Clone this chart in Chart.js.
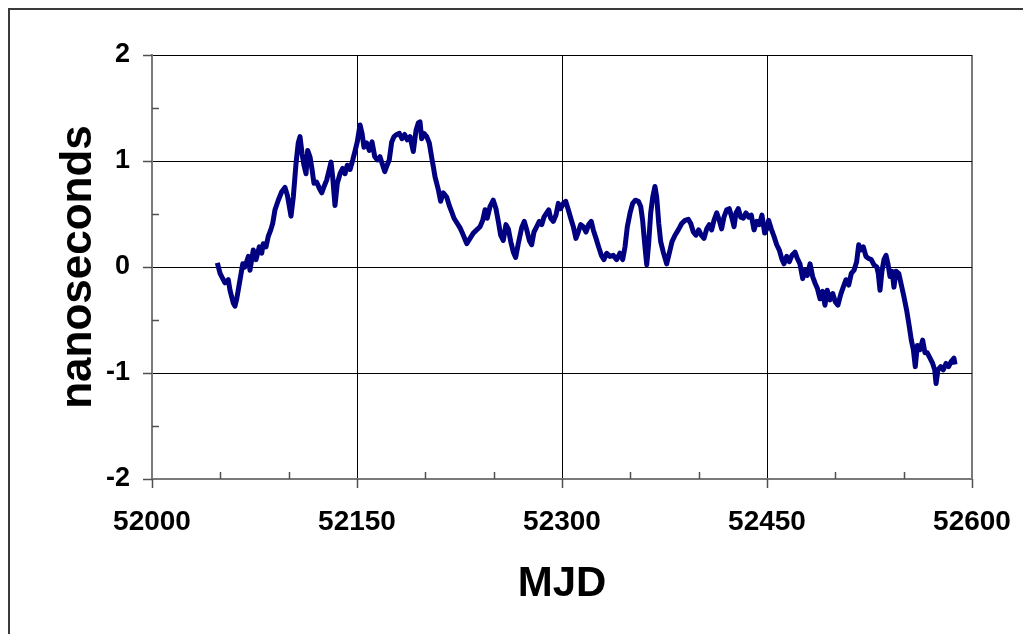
<!DOCTYPE html>
<html>
<head>
<meta charset="utf-8">
<script src="https://cdn.jsdelivr.net/npm/chart.js@4.4.1/dist/chart.umd.min.js"></script>
<style>
  html, body { margin: 0; padding: 0; background: #ffffff; }
  canvas { display: block; }
</style>
</head>
<body>
<canvas id="clock" width="1023" height="634"></canvas>
<script>
// Modified Julian Date of each sample
const mjd = [
  52047.8,52049.8,52051.0,52053.4,52055.8,52057.1,52059.5,52060.7,52062.0,52064.4,
  52066.4,52068.0,52070.5,52071.7,52074.1,52076.1,52078.5,52080.3,52081.4,52083.4,
  52085.1,52086.9,52088.3,52090.0,52092.4,52094.9,52097.3,52099.0,52100.5,52101.7,
  52103.4,52105.4,52107.0,52108.3,52109.8,52111.2,52112.7,52113.9,52115.6,52117.1,
  52118.5,52120.5,52122.9,52124.2,52125.9,52127.8,52129.7,52131.0,52132.2,52133.9,
  52135.6,52137.6,52139.5,52141.2,52142.9,52144.9,52146.9,52148.5,52150.2,52152.2,
  52153.7,52155.1,52157.1,52159.0,52161.0,52163.0,52164.9,52166.8,52168.8,52170.3,
  52171.7,52173.6,52175.4,52177.1,52179.0,52181.0,52182.9,52184.9,52186.8,52188.8,
  52191.2,52193.2,52194.9,52196.1,52197.3,52199.0,52201.0,52202.9,
  52204.7,52205.8,52207.1,52209.5,52211.2,52213.1,52215.6,52217.5,52219.3,52221.0,
  52223.4,52225.4,52227.8,52230.3,52232.7,52235.1,52237.6,52240.0,52242.0,52243.7,
  52245.3,52247.3,52249.7,52251.7,52253.4,52255.1,52257.0,52259.0,52260.7,52262.5,
  52264.4,52266.1,52268.0,52270.5,52272.4,52274.2,52276.1,52277.8,52279.5,52281.5,
  52283.4,52285.2,52286.8,52288.8,52290.3,52291.7,52293.6,52295.6,52297.3,52299.0,
  52301.0,52302.7,52304.4,52306.4,52308.3,52310.2,52311.9,52313.7,52315.6,52317.6,
  52319.5,52321.4,52322.9,52324.9,52326.8,52328.8,52330.7,52332.7,52335.1,52337.5,
  52340.0,52342.4,
  52344.4,52346.1,52347.8,52349.8,52351.7,52353.7,52355.9,52357.6,52359.0,52360.5,
  52362.0,52363.4,52364.9,52366.4,52368.0,52369.3,52370.8,52372.2,52374.1,52376.6,
  52378.5,52380.5,52382.7,52385.1,52387.6,52390.0,52392.4,52394.2,52396.1,52398.0,
  52400.0,52401.9,52403.9,52405.9,52407.8,52409.5,52411.2,52413.2,52415.1,52416.8,
  52418.5,52420.5,52422.4,52424.2,52425.9,52427.3,52429.0,52430.8,52432.7,52434.6,
  52436.6,52438.5,52440.5,52442.5,52444.4,52446.3,52448.3,52449.8,52451.2,52453.1,
  52455.1,52457.1,52459.0,52461.0,
  52462.4,52464.4,52466.3,52468.3,52470.5,52472.2,52474.1,52476.1,52477.8,52479.5,
  52481.5,52483.4,52485.1,52486.8,52488.8,52490.7,52492.4,52494.1,52496.1,52498.1,
  52500.0,52501.9,52503.9,52505.8,52507.8,52509.8,52511.7,52513.7,52515.6,52517.1,
  52518.6,52520.5,52522.4,52524.4,52526.3,52528.3,52530.3,52531.4,52532.7,52534.1,
  52535.6,52537.1,52538.5,52540.0,52541.5,52542.9,52544.4,52546.4,52548.3,52550.2,
  52552.2,52554.1,52555.6,52557.1,52558.5,52560.0,52562.0,52563.9,52565.6,52567.3,
  52569.3,52571.2,52572.7,52573.7,52575.1,52577.1,52579.0,52581.0,52582.9,52584.8,
  52586.8,52587.6
];

// Clock offset at each sample, in nanoseconds
const nanoseconds = [
  0.04,-0.06,-0.09,-0.15,-0.12,-0.22,-0.34,-0.37,-0.30,-0.12,
  0.03,0.00,0.10,-0.03,0.16,0.07,0.19,0.13,0.22,0.19,
  0.29,0.35,0.41,0.54,0.63,0.71,0.75,0.68,0.57,0.48,
  0.66,0.98,1.17,1.23,1.07,0.96,0.88,1.10,1.04,0.92,
  0.79,0.80,0.73,0.70,0.76,0.82,0.92,0.99,0.85,0.58,
  0.79,0.88,0.93,0.88,0.96,0.92,1.01,1.09,1.18,1.34,
  1.26,1.13,1.17,1.10,1.18,1.04,1.01,1.04,0.96,0.90,
  0.95,1.01,1.18,1.23,1.25,1.26,1.21,1.25,1.20,1.23,
  1.09,1.29,1.36,1.37,1.21,1.26,1.23,1.17,
  1.03,0.95,0.85,0.73,0.62,0.70,0.66,0.58,0.52,0.46,
  0.41,0.37,0.30,0.22,0.27,0.32,0.35,0.38,0.44,0.54,
  0.46,0.57,0.63,0.55,0.43,0.30,0.25,0.40,0.36,0.24,
  0.14,0.09,0.22,0.37,0.43,0.35,0.25,0.21,0.33,0.38,
  0.43,0.40,0.47,0.51,0.54,0.46,0.43,0.49,0.60,0.55,
  0.60,0.62,0.55,0.46,0.38,0.27,0.33,0.40,0.38,0.33,
  0.40,0.43,0.35,0.27,0.19,0.11,0.07,0.13,0.10,0.11,
  0.07,0.13,
  0.07,0.19,0.38,0.51,0.60,0.63,0.62,0.57,0.44,0.22,
  0.02,0.22,0.51,0.66,0.76,0.66,0.41,0.24,0.14,0.03,
  0.13,0.24,0.30,0.35,0.41,0.44,0.45,0.41,0.33,0.30,
  0.35,0.30,0.27,0.36,0.40,0.35,0.44,0.51,0.44,0.36,
  0.47,0.54,0.55,0.47,0.38,0.51,0.55,0.47,0.46,0.51,
  0.47,0.49,0.35,0.43,0.40,0.49,0.32,0.36,0.44,0.36,
  0.29,0.21,0.16,0.07,
  0.03,0.10,0.05,0.11,0.14,0.08,0.03,-0.11,-0.03,-0.08,
  0.03,-0.09,-0.15,-0.20,-0.30,-0.23,-0.36,-0.22,-0.31,-0.25,
  -0.33,-0.36,-0.26,-0.19,-0.12,-0.17,-0.06,-0.03,0.05,0.21,
  0.16,0.19,0.10,0.08,0.07,0.02,0.00,-0.06,-0.22,-0.04,
  0.07,0.11,0.03,-0.09,-0.04,-0.19,-0.04,-0.06,-0.17,-0.28,
  -0.41,-0.56,-0.69,-0.78,-0.94,-0.74,-0.78,-0.69,-0.81,-0.81,
  -0.86,-0.91,-0.97,-1.10,-0.97,-0.94,-0.97,-0.91,-0.94,-0.89,
  -0.86,-0.92
];

// Labelled (major) tick values; unlabelled minor ticks fall between them
const xTickLabels = [52000, 52150, 52300, 52450, 52600];
const yTickLabels = [-2, -1, 0, 1, 2];

const points = mjd.map((d, i) => ({ x: d, y: nanoseconds[i] }));

const FONT = '"Liberation Sans", Arial, Helvetica, sans-serif';
const AXIS_GRAY = '#7a7a7a';

// White page with a thin frame along the top and left edges
const pageFrame = {
  id: 'pageFrame',
  beforeDraw(chart) {
    const c = chart.ctx;
    c.save();
    c.fillStyle = '#ffffff';
    c.fillRect(0, 0, chart.width, chart.height);
    c.strokeStyle = '#3a3a3a';
    c.lineWidth = 2;
    c.beginPath();
    c.moveTo(9, chart.height);
    c.lineTo(9, 9);
    c.lineTo(chart.width, 9);
    c.stroke();
    c.restore();
  }
};

// Major ticks point outward, minor ticks point into the plot
const tickMarks = {
  id: 'tickMarks',
  beforeDatasetsDraw(chart) {
    const c = chart.ctx;
    const xs = chart.scales.x, ys = chart.scales.y;
    const area = chart.chartArea;
    c.save();
    c.strokeStyle = '#505050';
    c.lineWidth = 1.5;
    c.beginPath();
    xs.ticks.forEach(t => {
      const px = Math.round(xs.getPixelForValue(t.value)) + 0.5;
      if (xTickLabels.includes(t.value)) {
        c.moveTo(px, area.bottom); c.lineTo(px, area.bottom + 9);
      } else {
        c.moveTo(px, area.bottom); c.lineTo(px, area.bottom - 7);
      }
    });
    ys.ticks.forEach(t => {
      const py = Math.round(ys.getPixelForValue(t.value)) + 0.5;
      if (yTickLabels.includes(t.value)) {
        c.moveTo(area.left - 9, py); c.lineTo(area.left, py);
      } else {
        c.moveTo(area.left, py); c.lineTo(area.left + 7, py);
      }
    });
    c.stroke();
    c.restore();
  }
};

new Chart(document.getElementById('clock'), {
  type: 'line',
  data: {
    datasets: [{
      data: points,
      borderColor: '#000080',
      borderWidth: 5,
      borderJoinStyle: 'round',
      pointRadius: 0,
      tension: 0,
      fill: false
    }]
  },
  options: {
    responsive: false,
    animation: false,
    devicePixelRatio: 1,
    layout: { padding: { left: 0, top: 55, right: 51, bottom: 0 } },
    plugins: { legend: { display: false }, tooltip: { enabled: false } },
    scales: {
      x: {
        type: 'linear',
        min: 52000,
        max: 52600,
        afterFit(scale) {
          scale.height = 155;
          scale.paddingLeft = 0;
          scale.paddingRight = 0;
        },
        ticks: {
          stepSize: 50,
          autoSkip: false,
          maxRotation: 0,
          padding: 26,
          color: '#000000',
          font: { family: FONT, size: 28, weight: 'bold' },
          callback: v => xTickLabels.includes(v) ? String(v) : ''
        },
        grid: {
          drawTicks: false,
          color: ctx => {
            const v = ctx.tick && ctx.tick.value;
            if (v === 52600) return AXIS_GRAY;
            return (xTickLabels.includes(v) && v !== 52000) ? '#000000' : 'rgba(0,0,0,0)';
          },
          lineWidth: ctx => (ctx.tick && ctx.tick.value === 52600) ? 2 : 1
        },
        border: { display: true, color: AXIS_GRAY, width: 2 },
        title: {
          display: true,
          text: 'MJD',
          color: '#000000',
          font: { family: FONT, size: 42, weight: 'bold' },
          padding: { top: 0, bottom: 24 }
        }
      },
      y: {
        type: 'linear',
        min: -2,
        max: 2,
        afterFit(scale) {
          scale.width = 152;
          scale.paddingTop = 0;
          scale.paddingBottom = 0;
        },
        ticks: {
          stepSize: 0.5,
          autoSkip: false,
          padding: 22,
          color: '#000000',
          font: { family: FONT, size: 27, weight: 'bold' },
          callback: v => yTickLabels.includes(v) ? String(v) : ''
        },
        grid: {
          drawTicks: false,
          color: ctx => {
            const v = ctx.tick && ctx.tick.value;
            return (yTickLabels.includes(v) && v !== -2) ? '#000000' : 'rgba(0,0,0,0)';
          },
          lineWidth: 1
        },
        border: { display: true, color: AXIS_GRAY, width: 2 },
        title: {
          display: true,
          text: 'nanoseconds',
          color: '#000000',
          font: { family: FONT, size: 44, weight: 'bold' },
          padding: { top: 52, bottom: 0 }
        }
      }
    }
  },
  plugins: [pageFrame, tickMarks]
});
</script>
</body>
</html>
